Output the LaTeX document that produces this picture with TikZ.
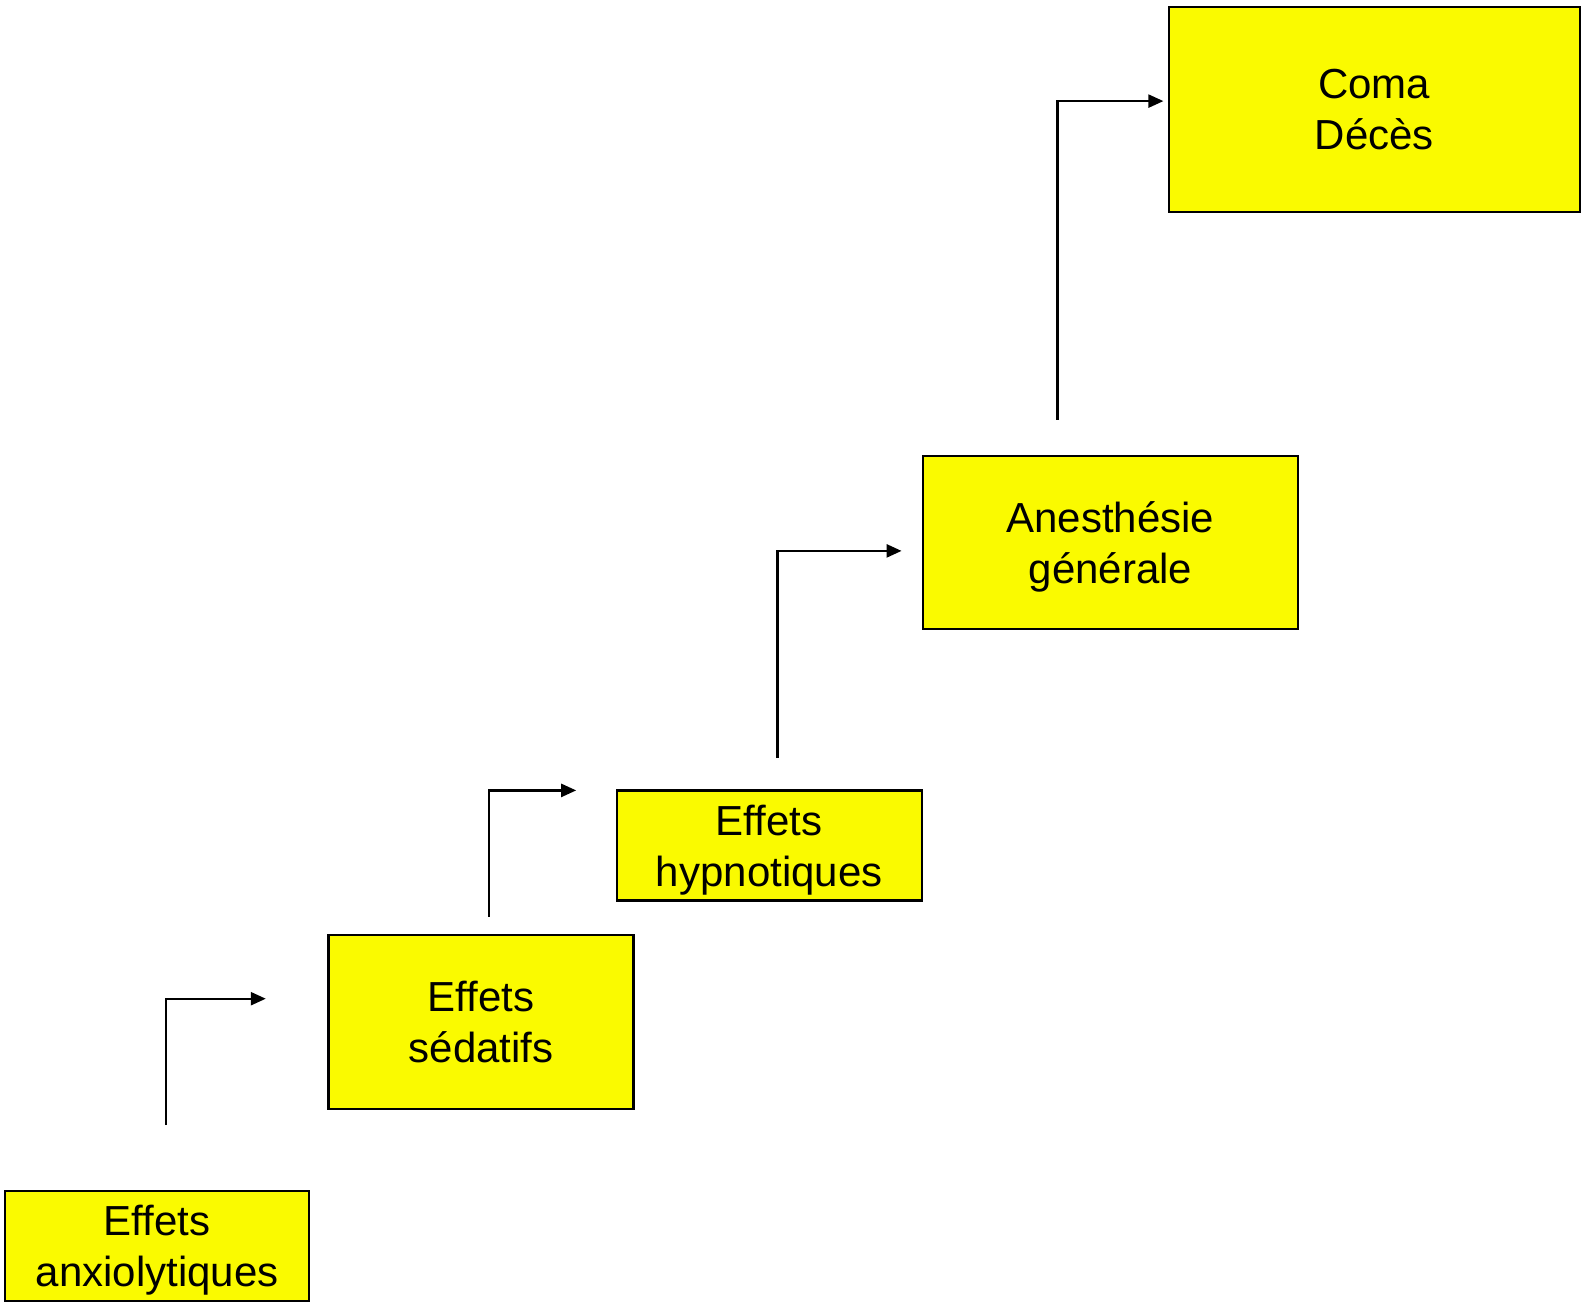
\documentclass[tikz,border=0pt]{standalone}
\usepackage{fontspec}
\setmainfont{Liberation Sans}
\usepackage{tikz}
\usetikzlibrary{arrows.meta}
\definecolor{boxyellow}{RGB}{250,250,0}

\begin{document}
\begin{tikzpicture}[x=0.5pt, y=-0.5pt,
                stage/.style={
                  draw, line width=1.2pt, fill=boxyellow, rectangle,
                  align=center, inner sep=0pt, text depth=-4pt,
                  font=\fontsize{21}{25.5}\selectfont
                },
                stepline/.style={
                  line width=1.2pt, -{Triangle[length=7.5pt,width=6.5pt]}
                }
              ]
              \useasboundingbox (0,0) rectangle (1585,1311);
              % the five stages
              \node [stage, minimum width=152pt, minimum height=55pt] at (157.2,1245.8) (anxio) {Effets\\anxiolytiques};
              \node [stage, minimum width=152.5pt, minimum height=87pt] at (481.1,1021.9) (sedat) {Effets\\sédatifs};
              \node [stage, minimum width=152.5pt, minimum height=55pt] at (769.2,845.5) (hypno) {Effets\\hypnotiques};
              \node [stage, minimum width=187.5pt, minimum height=86.5pt] at (1110.4,542.3) (anesth) {Anesthésie\\générale};
              \node [stage, minimum width=205.5pt, minimum height=102.5pt] at (1374.2,109.7) (coma) {Coma\\Décès};
              % the steps between them
              \coordinate (s1a) at (165.8,1125);
              \coordinate (s1b) at (165.8,998.7);
              \coordinate (s1c) at (265.8,998.7);
              \coordinate (s2a) at (489.2,916.8);
              \coordinate (s2b) at (489.2,790.4);
              \coordinate (s2c) at (576.2,790.4);
              \coordinate (s3a) at (777.3,758.1);
              \coordinate (s3b) at (777.3,550.9);
              \coordinate (s3c) at (901.6,550.9);
              \coordinate (s4a) at (1057.3,419.5);
              \coordinate (s4b) at (1057.3,101.1);
              \coordinate (s4c) at (1163.4,101.1);
              \draw [stepline] (s1a) -- (s1b) -- (s1c);
              \draw [stepline] (s2a) -- (s2b) -- (s2c);
              \draw [stepline] (s3a) -- (s3b) -- (s3c);
              \draw [stepline] (s4a) -- (s4b) -- (s4c);
            \end{tikzpicture}
\end{document}
